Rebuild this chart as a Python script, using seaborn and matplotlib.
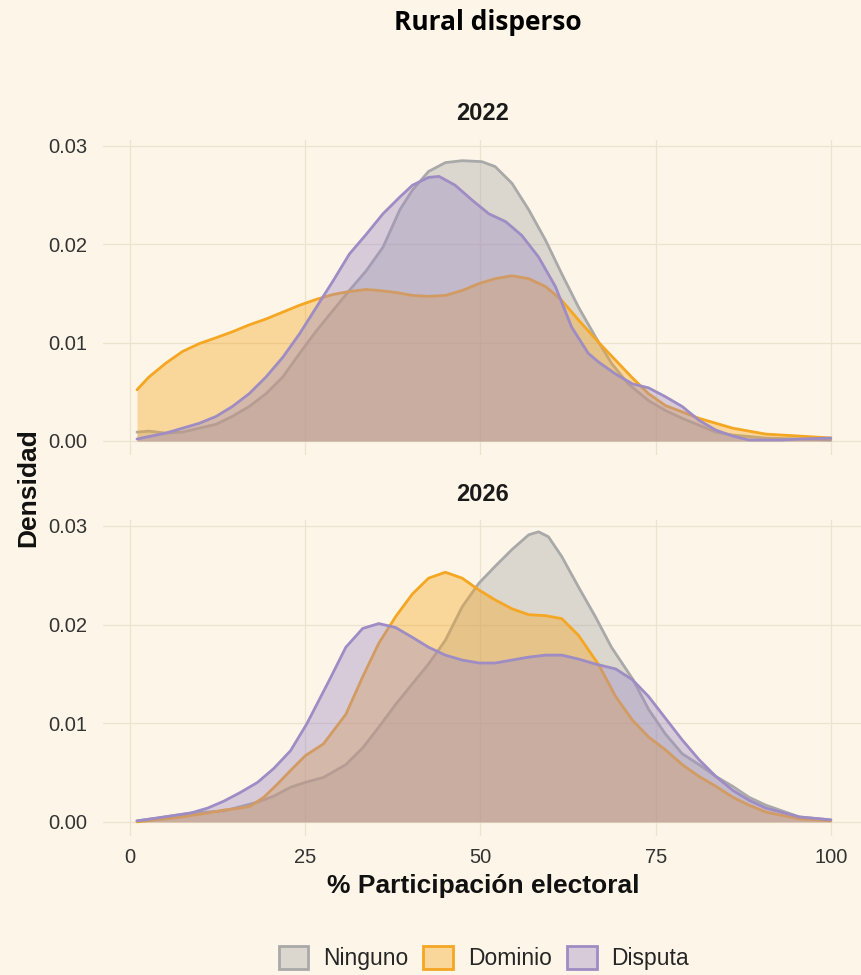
import matplotlib
matplotlib.use("Agg")
import matplotlib.pyplot as plt
from matplotlib.patches import Patch
import seaborn as sns
import pandas as pd

# Density curves (x = % participacion, y = density)
ninguno_2022_x = [1, 2.7, 5.1, 7.5, 9.9, 12.3, 14.6, 17, 19.4, 21.8, 24.2, 26.6, 29, 31.3, 33.7, 36.1, 38.5, 40.3, 42.6, 45,
                  47.4, 50.2, 52.1, 54.5, 56.9, 59.3, 61.6, 64, 66.4, 68.7, 71.1, 74, 76.4, 78.8, 81.2, 83.6, 86, 90.7, 95.5, 100]
ninguno_2022_y = [0.0009, 0.0010, 0.0008, 0.0009, 0.0013, 0.0017, 0.0025, 0.0035, 0.0048, 0.0065, 0.0089, 0.0112, 0.0133,
                  0.0153, 0.0173, 0.0197, 0.0235, 0.0255, 0.0274, 0.0283, 0.0285, 0.0284, 0.0279, 0.0262, 0.0235, 0.0204,
                  0.0170, 0.0136, 0.0106, 0.0079, 0.0058, 0.0041, 0.0031, 0.0023, 0.0016, 0.0009, 0.0006, 0.0003, 0.0002, 0.0001]

dominio_2022_x = [1, 2.7, 5.1, 7.5, 9.9, 12.3, 14.6, 17, 19.4, 21.8, 24.2, 26.6, 29, 31.3, 33.7, 35.5, 37.9, 40.3, 42.6,
                  45, 47.4, 49.8, 52.1, 54.5, 56.9, 59.3, 61.6, 64, 66.9, 69.3, 71.7, 74, 76.4, 81.2, 86, 90.7, 95.5, 100]
dominio_2022_y = [0.0052, 0.0065, 0.0079, 0.0091, 0.0099, 0.0105, 0.0111, 0.0118, 0.0124, 0.0131, 0.0138, 0.0144, 0.0149,
                  0.0152, 0.0154, 0.0153, 0.0151, 0.0148, 0.0147, 0.0148, 0.0153, 0.0160, 0.0165, 0.0168, 0.0165, 0.0157,
                  0.0143, 0.0123, 0.0100, 0.0082, 0.0064, 0.0048, 0.0036, 0.0023, 0.0013, 0.0007, 0.0005, 0.0003]

disputa_2022_x = [1, 5.1, 9.9, 12.3, 14.6, 17, 19.4, 21.8, 24.2, 26.6, 29, 31.3, 33.7, 36.1, 38.5, 40.3, 42.6, 44.1, 46.4,
                  48.8, 51.2, 53.6, 55.9, 58.3, 60.7, 63, 65.4, 66.9, 69.3, 71.7, 74, 76.4, 78.8, 81.2, 83.6, 86, 88.3,
                  90.7, 93, 95.5, 100]
disputa_2022_y = [0.0002, 0.0008, 0.0018, 0.0025, 0.0035, 0.0048, 0.0065, 0.0085, 0.0109, 0.0136, 0.0163, 0.0190, 0.0210,
                  0.0231, 0.0248, 0.0260, 0.0268, 0.0269, 0.0260, 0.0245, 0.0231, 0.0223, 0.0209, 0.0187, 0.0157, 0.0116,
                  0.0089, 0.0080, 0.0068, 0.0058, 0.0054, 0.0045, 0.0035, 0.0021, 0.0011, 0.0005, 0.0001, 0.0001, 0.0001,
                  0.0002, 0.0003]

ninguno_2026_x = [1, 4, 8.7, 13.4, 18.2, 20.5, 22.9, 25, 27.6, 30.8, 33.2, 35.5, 37.9, 40.3, 42.6, 45, 47.4, 49.8, 52.1,
                  54.5, 56.9, 58.3, 59.7, 61.6, 64, 66.4, 68.7, 71.7, 74, 76.4, 78.8, 81.2, 83.6, 86, 88.3, 90.7, 95.5, 100]
ninguno_2026_y = [0.0001, 0.0004, 0.0009, 0.0011, 0.0020, 0.0026, 0.0035, 0.0040, 0.0045, 0.0058, 0.0075, 0.0096, 0.0119,
                  0.0140, 0.0160, 0.0184, 0.0218, 0.0242, 0.0259, 0.0276, 0.0291, 0.0294, 0.0289, 0.0269, 0.0238, 0.0208,
                  0.0177, 0.0145, 0.0114, 0.0089, 0.0069, 0.0058, 0.0046, 0.0036, 0.0025, 0.0017, 0.0005, 0.0002]

dominio_2026_x = [1, 6.4, 11.1, 13.4, 15.8, 17.2, 19.1, 21, 22.9, 25, 27.6, 30.8, 33.2, 35.5, 37.9, 40.3, 42.6, 45, 47.4,
                  49.8, 52.1, 54.5, 56.9, 59.3, 61.6, 64, 66.9, 69.3, 71.7, 74, 76.4, 78.8, 81.2, 83.6, 86, 88.3, 90.7,
                  95.5, 100]
dominio_2026_y = [0.0000, 0.0004, 0.0009, 0.0012, 0.0014, 0.0016, 0.0025, 0.0038, 0.0052, 0.0067, 0.0079, 0.0109, 0.0147,
                  0.0181, 0.0208, 0.0231, 0.0247, 0.0253, 0.0247, 0.0235, 0.0225, 0.0216, 0.0210, 0.0209, 0.0206, 0.0189,
                  0.0159, 0.0127, 0.0103, 0.0086, 0.0073, 0.0058, 0.0046, 0.0036, 0.0025, 0.0017, 0.0010, 0.0003, 0.0001]

disputa_2026_x = [1, 4, 8.7, 11.1, 13.4, 15.8, 18.2, 20.5, 22.9, 25.2, 28.4, 30.8, 33.2, 35.5, 37.9, 40.3, 42.6, 45, 47.4,
                  49.8, 52.1, 54.5, 56.9, 59.3, 61.6, 64, 66.4, 69.3, 71.7, 74, 76.4, 78.8, 81.2, 83.6, 86, 88.3, 90.7,
                  95.5, 100]
disputa_2026_y = [0.0001, 0.0004, 0.0009, 0.0014, 0.0021, 0.0030, 0.0040, 0.0054, 0.0072, 0.0099, 0.0143, 0.0177, 0.0196,
                  0.0201, 0.0197, 0.0187, 0.0177, 0.0169, 0.0164, 0.0161, 0.0161, 0.0164, 0.0167, 0.0169, 0.0169, 0.0165,
                  0.0160, 0.0155, 0.0144, 0.0127, 0.0105, 0.0083, 0.0063, 0.0046, 0.0032, 0.0022, 0.0014, 0.0005, 0.0002]

years = ["2022", "2026"]
groups = ["Ninguno", "Dominio", "Disputa"]
x_ticks = [0, 25, 50, 75, 100]
y_ticks = [0.00, 0.01, 0.02, 0.03]

curves = {
    ("2022", "Ninguno"): (ninguno_2022_x, ninguno_2022_y),
    ("2022", "Dominio"): (dominio_2022_x, dominio_2022_y),
    ("2022", "Disputa"): (disputa_2022_x, disputa_2022_y),
    ("2026", "Ninguno"): (ninguno_2026_x, ninguno_2026_y),
    ("2026", "Dominio"): (dominio_2026_x, dominio_2026_y),
    ("2026", "Disputa"): (disputa_2026_x, disputa_2026_y),
}

rows = []
for (yr, g), (xs, ys) in curves.items():
    assert len(xs) == len(ys), (yr, g)
    for xv, yv in zip(xs, ys):
        rows.append({"anio": yr, "grupo": g, "x": xv, "dens": yv})
df = pd.DataFrame(rows)

bg = "#fdf6e8"
line_colors = {"Ninguno": "#a9a9a9", "Dominio": "#f5a623", "Disputa": "#9e8cc4"}
fill_alpha = 0.4

sns.set_theme(style="white", rc={
    "axes.facecolor": bg,
    "figure.facecolor": bg,
    "savefig.facecolor": bg,
})
plt.rcParams["font.family"] = ["Liberation Sans", "DejaVu Sans"]

fig = plt.figure(figsize=(8.61, 9.75), dpi=100)
ax_top = fig.add_axes([0.1196, 0.5333, 0.8804, 0.3231])
ax_bot = fig.add_axes([0.1196, 0.1426, 0.8804, 0.3241])

for ax, yr in zip([ax_top, ax_bot], years):
    sub = df[df["anio"] == yr]
    for i, g in enumerate(groups):
        d = sub[sub["grupo"] == g]
        ax.fill_between(d["x"], 0, d["dens"], color=line_colors[g],
                        alpha=fill_alpha, linewidth=0, zorder=2 + 2 * i)
        sns.lineplot(data=d, x="x", y="dens", ax=ax, color=line_colors[g],
                     linewidth=2.0, zorder=3 + 2 * i, sort=False, legend=False)
    ax.set_xlim(-3.85, 104.3)
    ax.set_ylim(-0.00143, 0.0306)
    ax.set_xticks(x_ticks)
    ax.set_yticks(y_ticks)
    ax.set_yticklabels([f"{v:.2f}" for v in y_ticks])
    ax.grid(True, color="#ebe2d0", linewidth=0.9, zorder=0)
    ax.set_axisbelow(True)
    for s in ax.spines.values():
        s.set_visible(False)
    ax.set_xlabel("")
    ax.set_ylabel("")
    ax.tick_params(axis="both", length=0, labelsize=14.5, labelcolor="#333333")
    ax.tick_params(axis="y", pad=11)
    ax.tick_params(axis="x", pad=9)

ax_top.set_xticklabels([])

fig.text(0.56, 1 - 113 / 975, "2022", ha="center", va="center",
         fontsize=17, fontweight="bold", color="#1a1a1a")
fig.text(0.56, 1 - 494 / 975, "2026", ha="center", va="center",
         fontsize=17, fontweight="bold", color="#1a1a1a")

fig.text(0.567, 1 - 22 / 975, "Rural disperso", ha="center", va="center",
         fontsize=19, fontweight="bold", color="black",
         family=["Open Sans", "DejaVu Sans"])
fig.text(28 / 861, 1 - 488 / 975, "Densidad", ha="center", va="center",
         rotation=90, fontsize=19, fontweight="bold", color="#111111")
fig.text(483 / 861, 1 - 886 / 975, "% Participación electoral", ha="center",
         va="center", fontsize=19, fontweight="bold", color="#111111")

handles = [Patch(facecolor=(*matplotlib.colors.to_rgb(line_colors[g]), fill_alpha),
                 edgecolor=line_colors[g], linewidth=2, label=g) for g in groups]
fig.legend(handles=handles, loc="center", bbox_to_anchor=(0.562, 0.0175),
           ncol=3, frameon=False, fontsize=16.5, handlelength=1.3,
           handleheight=1.2, handletextpad=0.65, columnspacing=0.65)

fig.savefig("out.png", dpi=100, facecolor=bg)
